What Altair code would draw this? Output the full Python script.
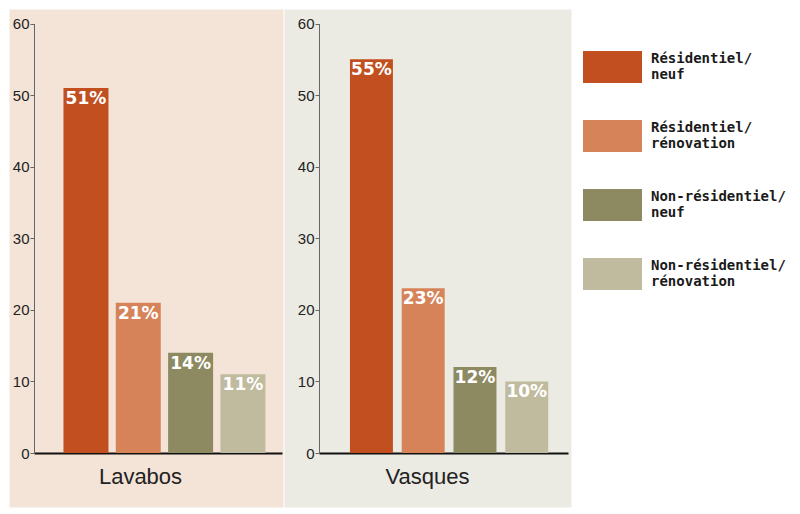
import altair as alt
import pandas as pd

categories = ["Lavabos", "Vasques"]
series = ["Résidentiel/ neuf", "Résidentiel/ rénovation",
          "Non-résidentiel/ neuf", "Non-résidentiel/ rénovation"]
lavabos_values = [51, 21, 14, 11]
vasques_values = [55, 23, 12, 10]
colors = ["#c14f1f", "#d6835a", "#8d8a62", "#c0bb9e"]
y_ticks = [0, 10, 20, 30, 40, 50, 60]

PANEL_H = 498


def make_df(values):
    return pd.DataFrame({
        "series": series,
        "value": values,
        "label": [f"{v}%" for v in values],
    })


def panel(df, title, fill, width, x_range, pin, pout, align, y_off, title_x):
    x = alt.X(
        "series:N", sort=series,
        scale=alt.Scale(range=x_range, paddingInner=pin, paddingOuter=pout, align=align),
        axis=alt.Axis(orient="bottom", offset=-(PANEL_H - 444), labels=False, ticks=False,
                      domainColor="#111111", domainWidth=2,
                      title=title, titleX=title_x, titleY=23,
                      titleBaseline="middle", titleAlign="center",
                      titleFontSize=22, titleFontWeight="normal",
                      titleColor="#222222", titleFont="Liberation Sans"),
    )
    y = alt.Y(
        "value:Q",
        scale=alt.Scale(domain=[0, 60], range=[444, 14.5], nice=False),
        axis=alt.Axis(orient="left", offset=-y_off, values=y_ticks, grid=False,
                      tickSize=4, tickColor="#666666", domainColor="#666666",
                      labelFontSize=15, labelColor="#222222", labelPadding=1,
                      labelFont="Liberation Sans", title=None),
    )
    color = alt.Color(
        "series:N", sort=series,
        scale=alt.Scale(domain=series, range=colors),
        legend=alt.Legend(
            orient="none", legendX=574, legendY=28.5, title=None, padding=0,
            symbolType="M-1,-0.54L1,-0.54L1,0.54L-1,0.54Z", symbolSize=3481,
            symbolStrokeWidth=0, symbolOpacity=1,
            labelExpr="split(datum.label, ' ')",
            labelFont="DejaVu Sans Mono", labelFontWeight="bold",
            labelFontSize=14, labelColor="#1a1a1a", labelBaseline="line-bottom",
            labelOffset=9, rowPadding=23, labelLimit=300,
        ),
    )
    bars = alt.Chart(df).mark_bar().encode(x=x, y=y, color=color)
    labels = alt.Chart(df).mark_text(
        baseline="top", dy=3, color="white", fontWeight="bold",
        fontSize=17, font="DejaVu Sans",
    ).encode(x=alt.X("series:N", sort=series), y="value:Q", text="label:N")
    return alt.layer(bars, labels).properties(
        width=width, height=PANEL_H,
        view=alt.ViewBackground(fill=fill, stroke="transparent"),
    )


left = panel(make_df(lavabos_values), categories[0], "#f4e3d7", 274,
             [25, 273], 0.14, 0.44, 0.64, 25, 131)
right = panel(make_df(vasques_values), categories[1], "#ebeae3", 287,
              [35, 284], 0.17, 0.49, 0.61, 35, 143)

chart = alt.hconcat(left, right, spacing=1, bounds="flush").properties(
    padding=0, background="white"
).configure_view(stroke="transparent")

chart.save("out.html", embed_options={"renderer": "svg", "actions": False})
